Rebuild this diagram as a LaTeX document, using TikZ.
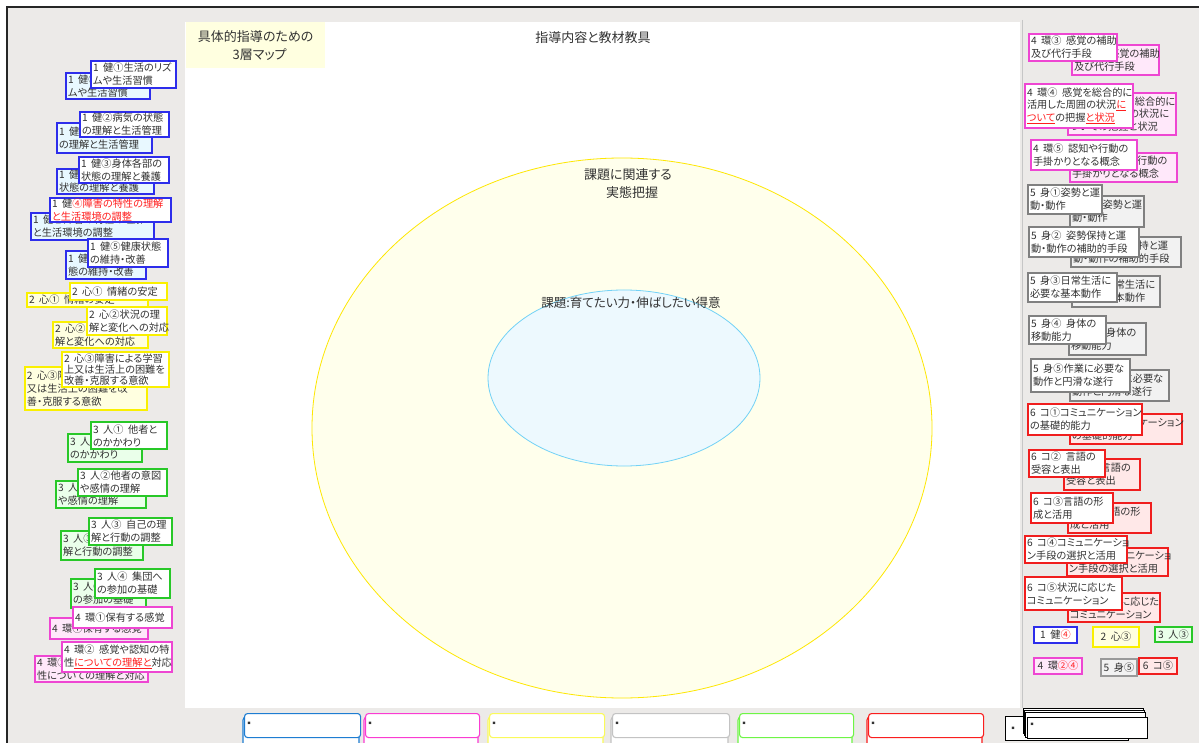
\documentclass[tikz,border=0pt]{standalone}
\usepackage{fontspec}
\setmainfont{Noto Sans CJK JP}[RawFeature=+palt]
\usetikzlibrary{shapes.geometric}
\definecolor{bggray}{RGB}{236,234,232}
\definecolor{txt}{RGB}{50,50,50}
\definecolor{kenB}{RGB}{45,45,235}\definecolor{kenF}{RGB}{232,248,255}
\definecolor{shinB}{RGB}{250,240,0}\definecolor{shinF}{RGB}{255,255,224}
\definecolor{hitoB}{RGB}{40,200,40}\definecolor{hitoF}{RGB}{234,255,234}
\definecolor{kanB}{RGB}{238,70,210}\definecolor{kanF}{RGB}{255,232,250}
\definecolor{shinbB}{RGB}{128,128,128}\definecolor{shinbF}{RGB}{242,242,242}
\definecolor{koB}{RGB}{240,30,30}\definecolor{koF}{RGB}{255,232,232}
\definecolor{jred}{RGB}{255,30,30}
\definecolor{trA}{RGB}{30,125,210}
\definecolor{trB}{RGB}{250,60,210}
\definecolor{trC}{RGB}{250,250,90}
\definecolor{trD}{RGB}{195,195,195}
\definecolor{trE}{RGB}{110,245,70}
\definecolor{trF}{RGB}{250,30,30}
\newcommand\jsp{\nobreak\hspace{4.5pt}\nobreak}
\newcommand\ru[1]{\textcolor{jred}{\underline{#1}}}
\newcommand\rd[1]{\textcolor{jred}{#1}}
\newcommand\bx[8][]{\pgfmathsetmacro\tw{#6-4}%
  \node[#3,anchor=north west,minimum width=#6pt,minimum height=#7pt,text width=\tw pt,
        inner xsep=2pt,inner ysep=0pt,outer sep=0pt,align=left,#1] (#2) at (#4,#5) {#8};}
\newcommand\tray[4]{% name, colour, x0, x1
  \pgfmathsetmacro\trw{#4-#3}%
  \draw[traybox,draw=#2] (#3-1,717) rectangle (#4-1,748);
  \node[traybox,draw=#2,anchor=north west,minimum width=\trw pt,minimum height=24pt,inner sep=0pt] (#1) at (#3,713) {};
  \node[dotlbl] (#1dot) at (#3+5,723) {■};}
\tikzset{
  base/.style={draw,line width=1.1pt,text=txt,font=\fontsize{10.2}{13}\selectfont},
  kenback/.style={base,draw=kenB,fill=kenF},   kenfront/.style={base,draw=kenB,fill=white},
  shinback/.style={base,draw=shinB,fill=shinF},shinfront/.style={base,draw=shinB,fill=white},
  hitoback/.style={base,draw=hitoB,fill=hitoF},hitofront/.style={base,draw=hitoB,fill=white},
  kanback/.style={base,draw=kanB,fill=kanF},   kanfront/.style={base,draw=kanB,fill=white},
  bodyback/.style={base,draw=shinbB,fill=shinbF},bodyfront/.style={base,draw=shinbB,fill=white},
  koback/.style={base,draw=koB,fill=koF},      kofront/.style={base,draw=koB,fill=white},
  tag/.style={draw,line width=1.1pt,text=txt,font=\fontsize{10.2}{12}\selectfont,anchor=north west,inner sep=0pt,outer sep=0pt},
  traybox/.style={draw,line width=1.1pt,rounded corners=3pt,fill=white},
  dotlbl/.style={font=\fontsize{3}{3}\selectfont,text=txt,inner sep=0pt},
  stackbox/.style={draw=black,line width=0.9pt,fill=white}
}
\begin{document}
\begin{tikzpicture}[x=1pt,y=-1pt]
\useasboundingbox (0,0) rectangle (1199,743);
\fill[white] (0,0) rectangle (1199,743);
\fill[bggray] (8,8) rectangle (1199,743);
\draw[black!85,line width=2pt] (7,743) -- (7,7) -- (1199,7);
% canvas
\fill[white] (185,22) rectangle (1020,708);
\draw[gray!45,line width=1pt] (1022,20) -- (1022,708);
\node[fill=shinF,minimum width=139pt,minimum height=46pt,anchor=north west,align=center,inner sep=0pt,
      text=txt,font=\fontsize{13}{18}\selectfont] (maptitle) at (186,22) {具体的指導のための\\\hspace{8pt}3層マップ};
\node[text=txt,font=\fontsize{13}{16}\selectfont] (title) at (593,38) {指導内容と教材教具};
% ellipses
\node[draw=yellow!90!orange,fill=shinF!60,line width=0.8pt,ellipse,minimum width=620pt,minimum height=540pt,inner sep=0pt] (outerE) at (622,428) {};
\node[text=txt,font=\fontsize{13}{18}\selectfont,align=center] (outerL) at (628,184) {課題に関連する\\\hspace{8pt}実態把握};
\node[draw=cyan!55,fill=cyan!7,line width=0.8pt,ellipse,minimum width=272pt,minimum height=176pt,inner sep=0pt] (innerE) at (624,378) {};
\node[text=txt,font=\fontsize{12.5}{16}\selectfont] (innerL) at (631,303) {課題:育てたい力・伸ばしたい得意};
% ---------- left column ----------
\bx{k1b}{kenback}{66}{73}{84}{26}{1\jsp 健①生活のリズ\\ムや生活習慣}
\bx{k1f}{kenfront}{91}{61}{85}{27}{1\jsp 健①生活のリズ\\ムや生活習慣}
\bx{k2b}{kenback}{57}{123}{95}{30}{1\jsp 健②病気の状態\\の理解と生活管理}
\bx{k2f}{kenfront}{80}{112}{89}{25}{1\jsp 健②病気の状態\\の理解と生活管理}
\bx{k3b}{kenback}{57}{169}{97}{25}{1\jsp 健③身体各部の\\状態の理解と養護}
\bx{k3f}{kenfront}{79}{157}{90}{26}{1\jsp 健③身体各部の\\状態の理解と養護}
\bx{k4b}{kenback}{31}{213}{123}{27}{1\jsp 健④障害の特性の理解\\と生活環境の調整}
\bx{k4f}{kenfront}{50}{198}{121}{24}{1\jsp 健\rd{④障害の特性の理解}\\\rd{と生活環境の調整}}
\bx{k5b}{kenback}{66}{251}{80}{28}{1\jsp 健⑤健康状\\態の維持・改善}
\bx{k5f}{kenfront}{88}{239}{80}{28}{1\jsp 健⑤健康状態\\の維持・改善}
\bx{s1b}{shinback}{27}{293}{121}{14}{2\jsp 心①\jsp 情緒の安定}
\bx{s1f}{shinfront}{70}{283}{97}{17}{2\jsp 心①\jsp 情緒の安定}
\bx{s2b}{shinback}{53}{322}{95}{26}{2\jsp 心②状況の理\\解と変化への対応}
\bx{s2f}{shinfront}{87}{307}{80}{28}{2\jsp 心②状況の理\\解と変化への対応}
\bx{s3b}{shinback}{25}{367}{122}{43}{2\jsp 心③障害による学習上\\又は生活上の困難を改\\善・克服する意欲}
\bx[font=\fontsize{10.2}{11}\selectfont]{s3f}{shinfront}{62}{352}{107}{35}{2\jsp 心③障害による学習\\上又は生活上の困難を\\改善・克服する意欲}
\bx{h1b}{hitoback}{68}{434}{74}{28}{3\jsp 人①\jsp 他者と\\のかかわり}
\bx{h1f}{hitofront}{91}{422}{76}{27}{3\jsp 人①\jsp 他者と\\のかかわり}
\bx{h2b}{hitoback}{56}{481}{90}{27}{3\jsp 人②他者の意図\\や感情の理解}
\bx{h2f}{hitofront}{78}{469}{89}{27}{3\jsp 人②他者の意図\\や感情の理解}
\bx{h3b}{hitoback}{61}{531}{82}{29}{3\jsp 人③\jsp 自己の理\\解と行動の調整}
\bx{h3f}{hitofront}{89}{518}{83}{27}{3\jsp 人③\jsp 自己の理\\解と行動の調整}
\bx{h4b}{hitoback}{71}{579}{75}{29}{3\jsp 人④\jsp 集団へ\\の参加の基礎}
\bx{h4f}{hitofront}{95}{569}{75}{29}{3\jsp 人④\jsp 集団へ\\の参加の基礎}
\bx{e1b}{kanback}{50}{618}{98}{21}{4\jsp 環①保有する感覚}
\bx{e1f}{kanfront}{73}{607}{99}{21}{4\jsp 環①保有する感覚}
\bx{e2b}{kanback}{35}{656}{113}{26}{4\jsp 環②感覚や認知の特\\性についての理解と対応}
\bx{e2f}{kanfront}{62}{642}{110}{30}{4\jsp 環②\jsp 感覚や認知の特\\性\ru{についての理解と}対応}
% ---------- right column ----------
\bx{e3b}{kanback}{1072}{45}{87}{30}{4\jsp 環③\jsp 感覚の補助\\及び代行手段}
\bx{e3f}{kanfront}{1029}{34}{88}{27}{4\jsp 環③\jsp 感覚の補助\\及び代行手段}
\bx[font=\fontsize{10.2}{12.5}\selectfont]{e4b}{kanback}{1068}{93}{108}{42}{4\jsp 環④\jsp 感覚を総合的に\\活用した周囲の状況に\\ついての把握と状況}
\bx[font=\fontsize{10.2}{12.5}\selectfont]{e4f}{kanfront}{1025}{84}{108}{44}{4\jsp 環④\jsp 感覚を総合的に\\活用した周囲の状況\ru{に}\\\ru{ついて}の把握\ru{と状況}}
\bx{e5b}{kanback}{1070}{153}{107}{29}{4\jsp 環⑤\jsp 認知や行動の\\手掛かりとなる概念}
\bx{e5f}{kanfront}{1031}{140}{106}{30}{4\jsp 環⑤\jsp 認知や行動の\\手掛かりとなる概念}
\bx{m1b}{bodyback}{1070}{196}{74}{31}{5\jsp 身①姿勢と運\\動・動作}
\bx{m1f}{bodyfront}{1028}{185}{74}{29}{5\jsp 身①姿勢と運\\動・動作}
\bx{m2b}{bodyback}{1071}{237}{110}{30}{5\jsp 身②\jsp 姿勢保持と運\\動・動作の補助的手段}
\bx{m2f}{bodyfront}{1029}{227}{110}{30}{5\jsp 身②\jsp 姿勢保持と運\\動・動作の補助的手段}
\bx{m3b}{bodyback}{1072}{276}{88}{31}{5\jsp 身③日常生活に\\必要な基本動作}
\bx{m3f}{bodyfront}{1028}{273}{89}{29}{5\jsp 身③日常生活に\\必要な基本動作}
\bx{m4b}{bodyback}{1069}{323}{77}{32}{5\jsp 身④\jsp 身体の\\移動能力}
\bx{m4f}{bodyfront}{1029}{316}{77}{28}{5\jsp 身④\jsp 身体の\\移動能力}
\bx{m5b}{bodyback}{1070}{370}{99}{31}{5\jsp 身⑤作業に必要な\\動作と円滑な遂行}
\bx{m5f}{bodyfront}{1031}{359}{99}{33}{5\jsp 身⑤作業に必要な\\動作と円滑な遂行}
\bx{c1b}{koback}{1070}{414}{112}{30}{6\jsp コ①コミュニケーション\\の基礎的能力}
\bx{c1f}{kofront}{1028}{404}{114}{31}{6\jsp コ①コミュニケーション\\の基礎的能力}
\bx{c2b}{koback}{1064}{459}{76}{31}{6\jsp コ②\jsp 言語の\\受容と表出}
\bx{c2f}{kofront}{1029}{450}{76}{27}{6\jsp コ②\jsp 言語の\\受容と表出}
\bx{c3b}{koback}{1068}{503}{83}{30}{6\jsp コ③言語の形\\成と活用}
\bx{c3f}{kofront}{1031}{493}{82}{30}{6\jsp コ③言語の形\\成と活用}
\bx{c4b}{koback}{1067}{548}{101}{28}{6\jsp コ④コミュニケーショ\\ン手段の選択と活用}
\bx{c4f}{kofront}{1025}{536}{102}{27}{6\jsp コ④コミュニケーショ\\ン手段の選択と活用}
\bx{c5b}{koback}{1068}{593}{92}{29}{6\jsp コ⑤状況に応じた\\コミュニケーション}
\bx{c5f}{kofront}{1025}{577}{97}{33}{6\jsp コ⑤状況に応じた\\コミュニケーション}
% ---------- tags ----------
\node[tag,draw=kenB,fill=white,minimum width=43pt,minimum height=16pt] (t1) at (1034,627) {1\jsp 健\rd{④}};
\node[tag,draw=shinB,fill=shinF,minimum width=46pt,minimum height=20pt] (t2) at (1093,627) {2\jsp 心③};
\node[tag,draw=hitoB,fill=hitoF,minimum width=37pt,minimum height=15pt] (t3) at (1155,627) {3\jsp 人③};
\node[tag,draw=kanB,fill=kanF,minimum width=48pt,minimum height=16pt] (t4) at (1034,658) {4\jsp 環\rd{②④}};
\node[tag,draw=shinbB!80,fill=shinbF,line width=1.6pt,minimum width=36pt,minimum height=17pt] (t5) at (1101,659) {5\jsp 身⑤};
\node[tag,draw=koB,fill=koF,minimum width=38pt,minimum height=16pt] (t6) at (1139,658) {6\jsp コ⑤};
% ---------- bottom trays ----------
\tray{ba}{trA}{244}{360}
\tray{bb}{trB}{365}{479}
\tray{bc}{trC}{489}{604}
\tray{bd}{trD}{612}{729}
\tray{be}{trE}{739}{853}
\tray{bf}{trF}{868}{983}
% ---------- bottom-right stack ----------
\node[stackbox,anchor=north west,minimum width=123pt,minimum height=24pt,inner sep=0pt] (sa) at (1005,716) {};
\node[dotlbl] (sadot) at (1013,728) {■};
\node[stackbox,anchor=north west,minimum width=120pt,minimum height=25pt,inner sep=0pt] (sb1) at (1023,708) {};
\node[stackbox,anchor=north west,minimum width=120pt,minimum height=25pt,inner sep=0pt] (sb2) at (1024,710) {};
\node[stackbox,anchor=north west,minimum width=120pt,minimum height=25pt,inner sep=0pt] (sb3) at (1025,712) {};
\node[stackbox,anchor=north west,minimum width=120pt,minimum height=21pt,inner sep=0pt] (sc) at (1027,717) {};
\node[dotlbl] (scdot) at (1032,724) {■};
\end{tikzpicture}
\end{document}
